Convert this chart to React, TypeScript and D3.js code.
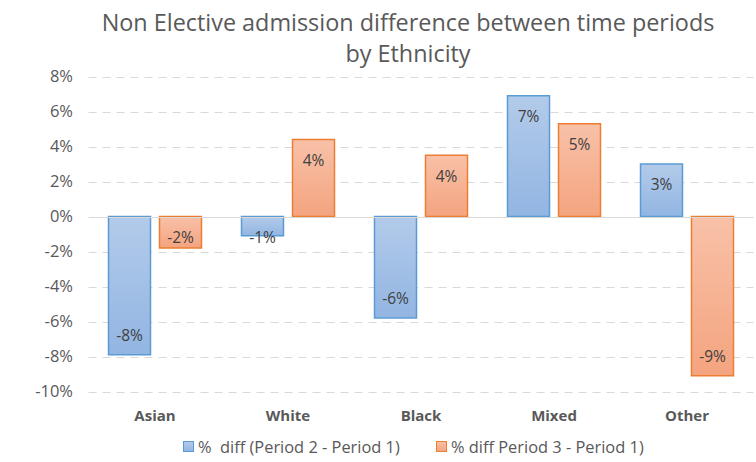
import React from "react";
import * as d3 from "d3";

const categories = ["Asian", "White", "Black", "Mixed", "Other"];
const seriesNames = ["%  diff (Period 2 - Period 1)", "% diff Period 3 - Period 1)"];
const period2Diff = [-7.9, -1.1, -5.8, 6.9, 3.0];
const period3Diff = [-1.8, 4.4, 3.5, 5.3, -9.1];
const yTicks = [8, 6, 4, 2, 0, -2, -4, -6, -8, -10];

const W = 756;
const H = 462;
const FONT = "'Open Sans', 'Noto Sans', sans-serif";
const TXT = "#595959";

export default function App() {
  const x = d3.scaleBand<string>().domain(categories).range([88.5, 753.5]);
  const y = d3.scaleLinear().domain([-10, 8]).range([391.5, 76.5]);
  const barW = 42;
  const gap = 9;
  const series = [
    { name: seriesNames[0], values: period2Diff, grad: "gBlue", stroke: "#5b9bd5", off: -gap / 2 - barW },
    { name: seriesNames[1], values: period3Diff, grad: "gOrange", stroke: "#ed7d31", off: gap / 2 },
  ];
  const fmt = (v: number) => `${Math.round(v)}%`;
  const y0 = y(0);

  return (
    <svg width={W} height={H} style={{ position: "absolute", left: 0, top: 0, background: "#fff" }} fontFamily={FONT}>
      <defs>
        <linearGradient id="gBlue" x1="0" y1="0" x2="0" y2="1">
          <stop offset="0" stopColor="#b3cbea" />
          <stop offset="1" stopColor="#92b5e2" />
        </linearGradient>
        <linearGradient id="gOrange" x1="0" y1="0" x2="0" y2="1">
          <stop offset="0" stopColor="#f8c1a8" />
          <stop offset="1" stopColor="#f4a47f" />
        </linearGradient>
      </defs>
      <text x={408} y={31} textAnchor="middle" fontSize={23.4} fill={TXT}>
        Non Elective admission difference between time periods
      </text>
      <text x={408} y={62} textAnchor="middle" fontSize={23.4} fill={TXT}>
        by Ethnicity
      </text>
      {yTicks.map((t) => (
        <g key={t}>
          {t !== 0 && (
            <line x1={88.5} x2={753.5} y1={Math.round(y(t)) + 0.5} y2={Math.round(y(t)) + 0.5} stroke="#d9d9d9" strokeWidth={1} strokeDasharray="8 6" />
          )}
          <text x={73} y={y(t)} dy="0.35em" textAnchor="end" fontSize={16.5} fill={TXT}>
            {`${t}%`}
          </text>
        </g>
      ))}
      {series.map((s) =>
        s.values.map((v, i) => {
          const cx = (x(categories[i]) as number) + x.bandwidth() / 2;
          const top = Math.min(y(v), y0);
          const h = Math.abs(y(v) - y0);
          return (
            <rect key={s.name + i} x={cx + s.off} y={top} width={barW} height={h} fill={`url(#${s.grad})`} stroke={s.stroke} strokeWidth={1.5} />
          );
        })
      )}
      <line x1={88.5} x2={753.5} y1={Math.round(y0) + 0.5} y2={Math.round(y0) + 0.5} stroke="#d9d9d9" strokeWidth={1.2} />
      {series.map((s) =>
        s.values.map((v, i) => {
          const cx = (x(categories[i]) as number) + x.bandwidth() / 2 + s.off + barW / 2;
          const ly = v >= 0 ? y(v) + 21 : Math.max(y(v) - 19, y0 + 21.5);
          return (
            <text key={"l" + s.name + i} x={cx} y={ly} dy="0.35em" textAnchor="middle" fontSize={15.5} fill="#404040">
              {fmt(v)}
            </text>
          );
        })
      )}
      {categories.map((c) => (
        <text key={c} x={(x(c) as number) + x.bandwidth() / 2} y={416} dy="0.35em" textAnchor="middle" fontSize={15} fontWeight="bold" fill={TXT}>
          {c}
        </text>
      ))}
      <g>
        <rect x={183.5} y={441.5} width={10} height={10} fill="url(#gBlue)" stroke="#5b9bd5" strokeWidth={1} />
        <text x={198} y={447} dy="0.35em" fontSize={16.4} fill={TXT} style={{ whiteSpace: "pre" }}>
          {seriesNames[0]}
        </text>
        <rect x={436.5} y={441.5} width={10} height={10} fill="url(#gOrange)" stroke="#ed7d31" strokeWidth={1} />
        <text x={451} y={447} dy="0.35em" fontSize={16.4} fill={TXT}>
          {seriesNames[1]}
        </text>
      </g>
    </svg>
  );
}
